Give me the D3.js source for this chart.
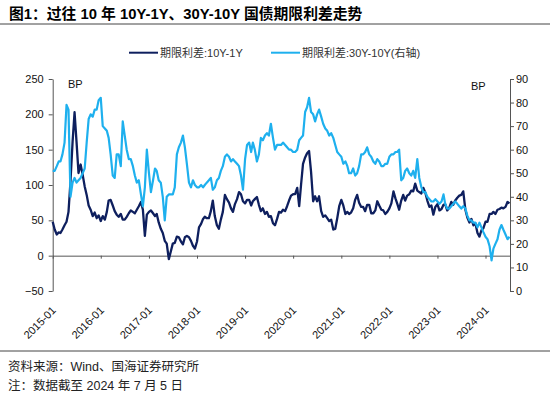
<!DOCTYPE html>
<html>
<head>
<meta charset="utf-8">
<script src="https://cdn.jsdelivr.net/npm/d3@7"></script>
<style>
  html, body { margin: 0; padding: 0; background: #fff; }
  svg { display: block; font-family: "Liberation Sans", Arial, "Noto Sans CJK SC", sans-serif; }
</style>
</head>
<body>
<svg id="chart" width="550" height="396"></svg>
<script>
"use strict";

// semi-monthly readings, 2015-01 .. 2024-07
const spread10y1y = [
	48, 37, 30, 33, 32, 37, 43, 48, 62, 105, 161, 203, 161, 117, 129, 115, 98, 86, 71, 65, 56, 61, 53, 57,
	49, 56, 51, 62, 78, 79, 71, 63, 58, 55, 59, 51, 51, 55, 60, 64, 62, 60, 65, 70, 76, 65, 28, 58,
	62, 64, 60, 56, 59, 47, 38, 32, 21, 17, -5, 6, 17, 18, 27, 26, 20, 16, 26, 28, 26, 21, 14, 10,
	20, 40, 45, 52, 55, 53, 53, 63, 78, 56, 43, 38, 51, 62, 86, 80, 75, 67, 62, 73, 80, 90, 87, 77,
	74, 79, 79, 71, 77, 80, 83, 72, 63, 67, 59, 62, 55, 56, 46, 43, 52, 62, 61, 65, 63, 70, 78, 85,
	87, 87, 96, 70, 100, 130, 139, 145, 148, 119, 77, 84, 77, 84, 63, 55, 57, 53, 49, 51, 37, 38,
	53, 70, 79, 71, 59, 62, 59, 61, 67, 79, 86, 75, 69, 69, 63, 72, 72, 60, 60, 64, 77, 71, 65, 64,
	59, 62, 67, 74, 91, 81, 74, 65, 78, 86, 78, 85, 87, 92, 91, 102, 92, 90, 88, 96, 89, 78, 69, 71,
	58, 69, 73, 64, 66, 72, 73, 64, 68, 76, 72, 78, 82, 85, 86, 91, 65, 54, 47, 52, 43, 46, 32, 27,
	36, 39, 48, 48, 59, 59, 62, 59, 65, 66, 68, 67, 69, 76, 74
]
const spread30y10y = [
	51, 51, 53, 55, 55, 58, 63, 79, 77, 40, 46, 48, 46, 47, 48, 50, 52, 63, 73, 75, 74, 77, 77, 81,
	82, 70, 69, 68, 65, 58, 49, 48, 58, 58, 53, 72, 66, 60, 56, 56, 53, 49, 46, 47, 41, 36, 44, 60,
	50, 42, 47, 52, 51, 47, 46, 40, 30, 40, 41, 41, 41, 44, 58, 61, 63, 66, 61, 54, 46, 44, 47, 45,
	44, 44, 45, 44, 45, 46, 47, 48, 43, 44, 47, 48, 51, 53, 57, 58, 57, 55, 56, 55, 54, 53, 49, 43,
	56, 62, 63, 59, 63, 60, 55, 58, 65, 64, 66, 67, 66, 71, 65, 60, 62, 62, 62, 63, 62, 61, 60, 60,
	59, 59, 60, 64, 65, 66, 76, 78, 82, 76, 75, 72, 75, 77, 74, 71, 69, 68, 66, 67, 65, 62, 59, 58,
	57, 54, 55, 53, 50, 50, 52, 49, 50, 53, 58, 58, 59, 61, 58, 57, 55, 54, 56, 55, 53, 53, 54, 54,
	57, 58, 58, 59, 59, 60, 47, 48, 51, 52, 50, 49, 51, 48, 56, 48, 44, 42, 42, 40, 39, 38, 38, 39,
	38, 37, 38, 41, 37, 35, 35, 36, 37, 38, 37, 36, 35, 36, 35, 32, 30, 30, 29, 29, 27, 29, 27, 25,
	23, 22, 19, 13, 18, 20, 22, 26, 28, 26, 24, 22, 23
]
const dates = spread10y1y.map((d, i) => new Date(Date.UTC(2015, Math.floor(i / 2), i % 2 ? 16 : 1)))

const leftTicks = [-50, 0, 50, 100, 150, 200, 250]
const rightTicks = [0, 10, 20, 30, 40, 50, 60, 70, 80, 90]
const yearTicks = d3.range(2015, 2025).map(y => new Date(Date.UTC(y, 0, 1)))

const title = "图1：过往 10 年 10Y-1Y、30Y-10Y 国债期限利差走势"
const seriesNames = ["期限利差:10Y-1Y", "期限利差:30Y-10Y(右轴)"]
const colors = ["#0e1f5e", "#1eb0ee"]
const source = "资料来源：Wind、国海证券研究所"
const note = "注：数据截至 2024 年 7 月 5 日"

;(function() {
	const svg = d3.select("#chart")
	const pl = 52.7, pr = 510, pt = 79, pb = 291

	const x = d3.scaleUtc()
		.domain([new Date(Date.UTC(2015, 0, 1)), new Date(Date.UTC(2024, 6, 5))])
		.range([pl, pr])
	const yL = d3.scaleLinear().domain([-50, 250]).range([pb, pt])
	const yR = d3.scaleLinear().domain([0, 90]).range([pb, pt])

	// title and rules
	svg.append("text")
		.attr("x", 9).attr("y", 18.5)
		.attr("font-size", 14.8).attr("font-weight", "bold")
		.attr("fill", "#000")
		.text(title)
	svg.append("line")
		.attr("x1", 0).attr("x2", 550).attr("y1", 24).attr("y2", 24)
		.attr("stroke", "#444").attr("stroke-width", 1)
	svg.append("line")
		.attr("x1", 0).attr("x2", 550).attr("y1", 351).attr("y2", 351)
		.attr("stroke", "#444").attr("stroke-width", 1)

	// legend
	const legendX = [129, 271]
	seriesNames.forEach((name, i) => {
		const g = svg.append("g").attr("transform", `translate(${legendX[i]}, 52.7)`)
		g.append("line").attr("x1", 0).attr("x2", 29)
			.attr("stroke", colors[i]).attr("stroke-width", 2)
		g.append("text").attr("x", 31).attr("y", 4)
			.attr("font-size", 11).attr("fill", "#333")
			.text(name)
	})

	// axes
	const axisColor = "#555"
	const gl = svg.append("g").attr("transform", `translate(${pl},0)`)
		.call(d3.axisLeft(yL).tickValues(leftTicks).tickSize(4).tickSizeOuter(0).tickPadding(5))
	const gr = svg.append("g").attr("transform", `translate(${pr},0)`)
		.call(d3.axisRight(yR).tickValues(rightTicks).tickSize(4).tickSizeOuter(0).tickPadding(2))
	const gx = svg.append("g").attr("transform", `translate(0,${yL(0)})`)
		.call(d3.axisBottom(x).tickValues(yearTicks).tickSize(3).tickSizeOuter(0).tickFormat(""))

	;[gl, gr, gx].forEach(g => {
		g.select(".domain").attr("stroke", axisColor)
		g.selectAll(".tick line").attr("stroke", axisColor)
		g.selectAll(".tick text")
			.attr("font-size", 11)
			.attr("fill", "#111")
			.attr("font-family", "Liberation Sans, Arial, sans-serif")
	})

	// rotated date labels below the plot
	svg.append("g").selectAll("text")
		.data(yearTicks)
		.enter()
		.append("text")
		.attr("transform", d => `translate(${x(d) + 4},${pb + 20}) rotate(-45)`)
		.attr("text-anchor", "end")
		.attr("font-size", 11)
		.attr("fill", "#111")
		.text(d3.utcFormat("%Y-%m"))

	// BP units
	svg.append("text").attr("x", 68).attr("y", 88).attr("font-size", 11).attr("fill", "#111").text("BP")
	svg.append("text").attr("x", 471).attr("y", 90).attr("font-size", 11).attr("fill", "#111").text("BP")

	// lines
	const lineL = d3.line().x((d, i) => x(dates[i])).y(d => yL(d))
	const lineR = d3.line().x((d, i) => x(dates[i])).y(d => yR(d))

	svg.append("path")
		.datum(spread10y1y)
		.attr("d", lineL)
		.attr("fill", "none")
		.attr("stroke", colors[0])
		.attr("stroke-width", 2.3)
		.attr("stroke-linejoin", "round")
	svg.append("path")
		.datum(spread30y10y)
		.attr("d", lineR)
		.attr("fill", "none")
		.attr("stroke", colors[1])
		.attr("stroke-width", 2.2)
		.attr("stroke-linejoin", "round")

	// footer
	svg.append("text").attr("x", 8).attr("y", 371).attr("font-size", 12.5).attr("fill", "#222").text(source)
	svg.append("text").attr("x", 8).attr("y", 390).attr("font-size", 12.5).attr("fill", "#222").text(note)
})()
</script>
</body>
</html>
